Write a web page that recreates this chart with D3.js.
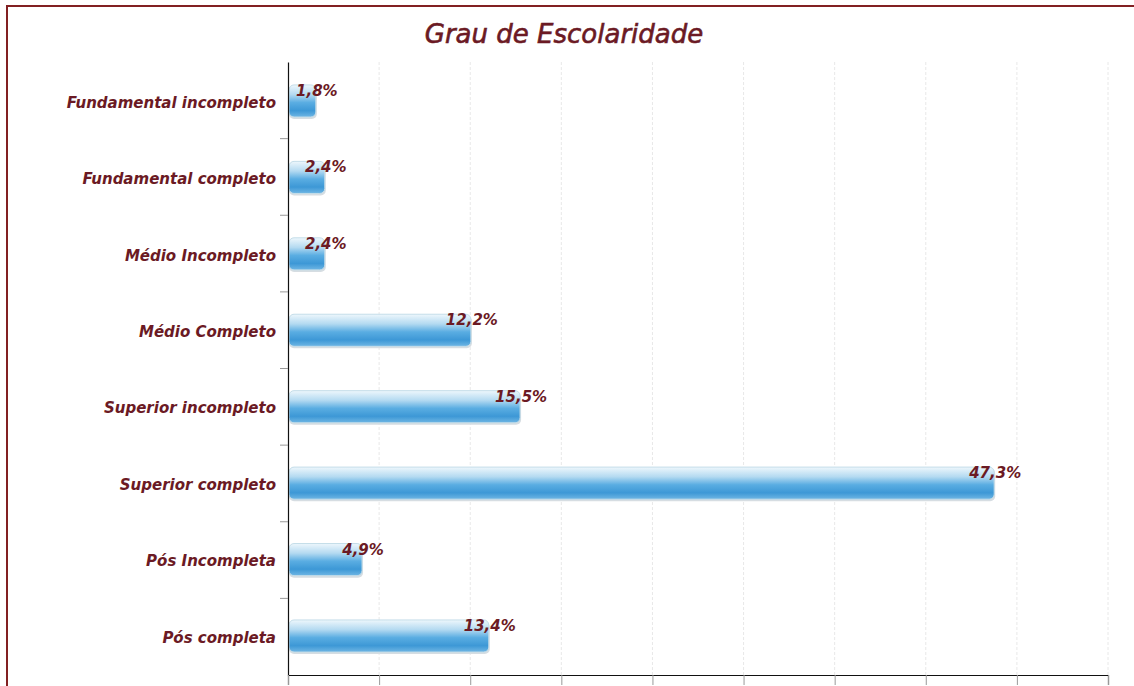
<!DOCTYPE html>
<html>
<head>
<meta charset="utf-8">
<script src="https://cdn.jsdelivr.net/npm/d3@7"></script>
<style>
  body { margin: 0; background: #fff; }
  text { font-family: "DejaVu Sans", Verdana, sans-serif; }
</style>
</head>
<body>
<svg width="1134" height="686"></svg>
<script>
// data
var categories = [
  "Fundamental incompleto",
  "Fundamental completo",
  "Médio Incompleto",
  "Médio Completo",
  "Superior incompleto",
  "Superior completo",
  "Pós Incompleta",
  "Pós completa"
];
var values = [1.8, 2.4, 2.4, 12.2, 15.5, 47.3, 4.9, 13.4];
var title = "Grau de Escolaridade";

var svg = d3.select("svg"),
    width = +svg.attr("width"),
    height = +svg.attr("height"),
    margin = {top: 62, right: 26, bottom: 11, left: 288},
    maroon = "#6b1a24";

var ptBR = d3.formatLocale({decimal: ",", thousands: ".", grouping: [3], currency: ["R$", ""]}),
    fmt = ptBR.format(".1f");

// frame (only top and left edges are inside the picture)
svg.append("path")
    .attr("d", "M7,686V6H1134")
    .attr("fill", "none")
    .attr("stroke", "#822022")
    .attr("stroke-width", 2);

svg.append("text")
    .attr("x", 564)
    .attr("y", 43)
    .attr("text-anchor", "middle")
    .attr("font-size", 26)
    .attr("font-style", "italic")
    .attr("fill", maroon)
    .attr("stroke", maroon)
    .attr("stroke-width", 0.6)
    .text(title);

var x = d3.scaleLinear()
    .domain([0, 55])
    .range([margin.left, width - margin.right]);

var y = d3.scaleBand()
    .domain(categories)
    .range([margin.top, height - margin.bottom])
    .paddingInner(0.58)
    .paddingOuter(0.3);

var gridTicks = d3.range(0, 55.001, 55 / 9);

// gridlines
svg.append("g")
    .selectAll("line")
    .data(gridTicks.slice(1))
    .enter().append("line")
    .attr("x1", function(d) { return x(d); })
    .attr("x2", function(d) { return x(d); })
    .attr("y1", margin.top)
    .attr("y2", height - margin.bottom)
    .attr("stroke", "#e8e8e8")
    .attr("stroke-dasharray", "3,2");

// gradient for the bars
var defs = svg.append("defs");
var grad = defs.append("linearGradient")
    .attr("id", "barGrad")
    .attr("x1", 0).attr("y1", 0).attr("x2", 0).attr("y2", 1);
grad.append("stop").attr("offset", "0%").attr("stop-color", "#eef7fc");
grad.append("stop").attr("offset", "30%").attr("stop-color", "#b4daf1");
grad.append("stop").attr("offset", "55%").attr("stop-color", "#5aade2");
grad.append("stop").attr("offset", "80%").attr("stop-color", "#3d98d6");
grad.append("stop").attr("offset", "100%").attr("stop-color", "#6fb6e4");

var bars = svg.append("g");

// soft shadow
bars.selectAll("rect.shadow")
    .data(values)
    .enter().append("rect")
    .attr("class", "shadow")
    .attr("x", x(0) + 1)
    .attr("y", function(d, i) { return y(categories[i]) + 2; })
    .attr("width", function(d) { return x(d) - x(0) + 1; })
    .attr("height", y.bandwidth())
    .attr("rx", 5)
    .attr("fill", "#d6dde2");

bars.selectAll("rect.bar")
    .data(values)
    .enter().append("rect")
    .attr("class", "bar")
    .attr("x", x(0) + 1)
    .attr("y", function(d, i) { return y(categories[i]); })
    .attr("width", function(d) { return x(d) - x(0); })
    .attr("height", y.bandwidth())
    .attr("rx", 5)
    .attr("fill", "url(#barGrad)")
    .attr("stroke", "#c4dde9")
    .attr("stroke-width", 1);

// value labels
svg.append("g")
    .selectAll("text")
    .data(values)
    .enter().append("text")
    .attr("x", function(d) { return x(d) + 2; })
    .attr("y", function(d, i) { return y(categories[i]) + 11; })
    .attr("text-anchor", "middle")
    .attr("font-size", 15)
    .attr("font-weight", "bold")
    .attr("font-style", "italic")
    .attr("fill", maroon)
    .text(function(d) { return fmt(d) + "%"; });

// axes
var yAxis = svg.append("g")
    .attr("transform", "translate(" + margin.left + ",0)")
    .call(d3.axisLeft(y).tickSize(0).tickPadding(12));
yAxis.select(".domain").attr("stroke", "#111").attr("stroke-width", 1.2);
yAxis.selectAll("text")
    .attr("font-size", 15)
    .attr("font-weight", "bold")
    .attr("font-style", "italic")
    .attr("fill", maroon)
    .attr("font-family", "DejaVu Sans, Verdana, sans-serif")
    .attr("dy", "0.45em");

// category separator ticks on the y axis
svg.append("g")
    .selectAll("line")
    .data(categories.slice(1))
    .enter().append("line")
    .attr("x1", margin.left - 8)
    .attr("x2", margin.left)
    .attr("y1", function(d) { return margin.top + categories.indexOf(d) * (height - margin.bottom - margin.top) / categories.length; })
    .attr("y2", function(d) { return margin.top + categories.indexOf(d) * (height - margin.bottom - margin.top) / categories.length; })
    .attr("stroke", "#999");

var xAxis = svg.append("g")
    .attr("transform", "translate(0," + (height - margin.bottom) + ")")
    .call(d3.axisBottom(x).tickValues(gridTicks).tickSize(10).tickFormat(""));
xAxis.select(".domain").attr("stroke", "#111").attr("stroke-width", 1.2);
xAxis.selectAll(".tick line").attr("stroke", "#999");
</script>
</body>
</html>
